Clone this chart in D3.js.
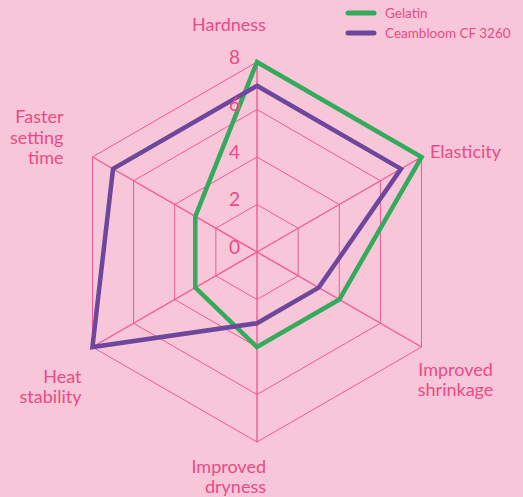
<!DOCTYPE html>
<html>
<head>
<meta charset="utf-8">
<script src="https://cdn.jsdelivr.net/npm/d3@7"></script>
<style>
  html, body { margin: 0; padding: 0; background: #F8C6D9; }
  svg { display: block; }
  text { font-family: Lato, "Noto Sans", sans-serif; }
</style>
</head>
<body>
<svg id="chart" width="523" height="497"></svg>
<script>
// ---- data ----
const axes = ["Hardness", "Elasticity", "Improved shrinkage", "Improved dryness", "Heat stability", "Faster setting time"];
const axisLabelLines = [["Hardness"], ["Elasticity"], ["Improved", "shrinkage"], ["Improved", "dryness"], ["Heat", "stability"], ["Faster", "setting", "time"]];
const seriesNames = ["Gelatin", "Ceambloom CF 3260"];
const gelatin = [8, 8, 4, 4, 3, 3];
const ceambloom = [7, 7, 3, 3, 8, 7];
const tickValues = [0, 2, 4, 6, 8];
const gridLevels = [2, 4, 6, 8];

// ---- style / layout ----
const colors = { bg: "#F8C6D9", grid: "#EE5A93", text: "#EA4A85", series: ["#34AA5C", "#6E479C"] };
const cx = 257, cy = 252, R = 190;
// label placement relative to outer vertex: [anchor, dx, dy(first baseline)]
const labelLayout = [
  ["middle", -28, -31],
  ["start", 8.5, 1],
  ["middle", 34, 28.5],
  ["end", 9, 31],
  ["end", -11, 36],
  ["end", -29, -34]
];
const lineGap = [0, 0, 20.5, 20, 20, 20.5];

const svg = d3.select("#chart");
svg.append("rect").attr("width", 523).attr("height", 497).attr("fill", colors.bg);

const r = d3.scaleLinear().domain([0, 8]).range([0, R]);
const ang = i => (i * 60 - 90) * Math.PI / 180;
const pt = (i, v) => [cx + r(v) * Math.cos(ang(i)), cy + r(v) * Math.sin(ang(i))];

const g = svg.append("g");

// grid hexagons
const closed = d3.line().curve(d3.curveLinearClosed);
gridLevels.forEach(lv => {
  g.append("path")
    .attr("d", closed(axes.map((a, i) => pt(i, lv))))
    .attr("fill", "none")
    .attr("stroke", colors.grid)
    .attr("stroke-width", 1);
});
// spokes
axes.forEach((a, i) => {
  const [x, y] = pt(i, 8);
  g.append("line").attr("x1", cx).attr("y1", cy).attr("x2", x).attr("y2", y)
    .attr("stroke", colors.grid).attr("stroke-width", 1.4);
});

// series
[gelatin, ceambloom].forEach((vals, s) => {
  g.append("path")
    .attr("d", closed(vals.map((v, i) => pt(i, v))))
    .attr("fill", "none")
    .attr("stroke", colors.series[s])
    .attr("stroke-width", 4.5)
    .attr("stroke-linejoin", "miter");
});

// tick labels
tickValues.forEach(t => {
  g.append("text")
    .attr("x", cx - 17)
    .attr("y", cy - r(t) + 1.5)
    .attr("text-anchor", "end")
    .attr("font-size", 19)
    .attr("fill", colors.text)
    .text(t);
});

// axis labels
axisLabelLines.forEach((lines, i) => {
  const [x, y] = pt(i, 8);
  const [anchor, dx, dy] = labelLayout[i];
  const t = g.append("text")
    .attr("text-anchor", anchor)
    .attr("font-size", 18)
    .attr("fill", colors.text);
  lines.forEach((ln, k) => {
    t.append("tspan").attr("x", x + dx).attr("y", y + dy + k * lineGap[i]).text(ln);
  });
});

// legend
const leg = svg.append("g");
seriesNames.forEach((name, s) => {
  const y = 13 + s * 20;
  leg.append("line").attr("x1", 348).attr("x2", 374).attr("y1", y).attr("y2", y)
    .attr("stroke", colors.series[s]).attr("stroke-width", 5).attr("stroke-linecap", "round");
  leg.append("text").attr("x", 385).attr("y", y + 4.5)
    .attr("font-size", 13.5).attr("fill", colors.text).text(name);
});
</script>
</body>
</html>
